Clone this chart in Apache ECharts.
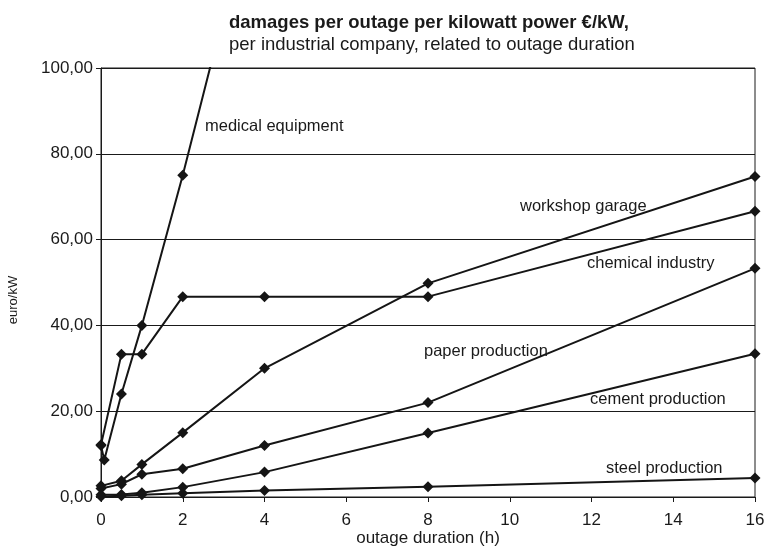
<!DOCTYPE html>
<html style="height: 100%;width:100%">
<head>
<meta charset="utf-8">
</head>
<body style="height: 100%; width:100%; margin:0">
<div id="chart-panel" style="width:772px;height:549px"></div>
<script type="text/javascript" src="https://fastly.jsdelivr.net/npm/echarts@6/dist/echarts.min.js"></script>
<script type="text/javascript">
// outage duration (h) / euro per kW
var hours = [0, 0.5, 1, 2, 4, 8, 16];
var medicalX = [0, 0.08, 0.5, 1, 2, 4];
var medical = [12, 8.6, 24, 40, 75, 150];
var chemicalX = [0, 0.5, 1, 2, 4, 8, 16];
var chemical = [12.2, 33.3, 33.3, 46.7, 46.7, 46.7, 66.6];
var workshop = [2.6, 3.8, 7.6, 15, 30, 49.8, 74.7];
var paper = [2, 3, 5.3, 6.6, 12, 22, 53.3];
var cement = [0.5, 0.6, 1, 2.3, 5.8, 14.9, 33.4];
var steel = [0.1, 0.3, 0.5, 0.9, 1.5, 2.4, 4.4];

var names = ['medical equipment', 'chemical industry', 'workshop garage', 'paper production', 'cement production', 'steel production'];

var dom = document.getElementById("chart-panel");
var myChart = echarts.init(dom);

function pairs(xs, ys) {
    var res = [];
    for (var i = 0; i < ys.length; i++) {
        res.push([xs[i], ys[i]]);
    }
    return res;
}

function lineSeries(name, data) {
    return {
        name: name,
        type: 'line',
        data: data,
        symbol: 'diamond',
        symbolSize: 11,
        clip: true,
        animation: false,
        lineStyle: { color: '#151515', width: 2 },
        itemStyle: { color: '#151515' }
    };
}

var font = 'Liberation Sans';
var textStyle = { fontFamily: font, fontSize: 16.5, fill: '#1a1a1a' };
// free labels next to the curves (left, top)
var labels = [
    [205, 118, names[0]],
    [520, 198, names[2]],
    [587, 255, names[1]],
    [424, 343, names[3]],
    [590, 391, names[4]],
    [606, 460, names[5]]
];

var graphics = labels.map(function (l) {
    return {
        type: 'text',
        left: l[0],
        top: l[1],
        z: 10,
        style: Object.assign({ text: l[2] }, textStyle)
    };
});
// y axis name, rotated
graphics.push({
    type: 'text',
    x: 13,
    y: 300,
    rotation: Math.PI / 2,
    style: { text: 'euro/kW', fontFamily: font, fontSize: 13, fill: '#1a1a1a', textAlign: 'center', textVerticalAlign: 'middle' }
});
// x axis name
graphics.push({
    type: 'text',
    x: 428,
    y: 538,
    style: { text: 'outage duration (h)', fontFamily: font, fontSize: 17, fill: '#1a1a1a', textAlign: 'center', textVerticalAlign: 'middle' }
});

var option = {
    backgroundColor: '#fff',
    title: [{
        text: 'damages per outage per kilowatt power €/kW,',
        left: 224,
        top: 8,
        textStyle: { fontFamily: font, fontSize: 18.5, fontWeight: 'bold', color: '#1a1a1a' }
    }, {
        text: 'per industrial company, related to outage duration',
        left: 224,
        top: 30,
        textStyle: { fontFamily: font, fontSize: 18.5, fontWeight: 'normal', color: '#1a1a1a' }
    }],
    grid: {
        left: 101,
        right: 17,
        top: 68,
        bottom: 52,
        containLabel: false,
        outerBoundsMode: 'none',
        show: true,
        borderColor: '#1a1a1a',
        borderWidth: 1
    },
    xAxis: {
        type: 'value',
        min: 0,
        max: 16,
        interval: 2,
        axisLine: { show: true, lineStyle: { color: '#1a1a1a', width: 1 } },
        axisTick: { show: true, length: 5, lineStyle: { color: '#1a1a1a' } },
        axisLabel: { fontFamily: font, fontSize: 17, color: '#1a1a1a', margin: 15 },
        splitLine: { show: false }
    },
    yAxis: {
        type: 'value',
        min: 0,
        max: 100,
        interval: 20,
        axisLine: { show: true, lineStyle: { color: '#1a1a1a', width: 1 } },
        axisTick: { show: true, length: 5, lineStyle: { color: '#1a1a1a' } },
        axisLabel: {
            fontFamily: font, fontSize: 17, color: '#1a1a1a', margin: 8,
            formatter: function (v) { return v.toFixed(2).replace('.', ','); }
        },
        splitLine: { show: true, lineStyle: { color: '#1a1a1a', width: 1 } }
    },
    graphic: graphics,
    series: [
        lineSeries(names[0], pairs(medicalX, medical)),
        lineSeries(names[1], pairs(chemicalX, chemical)),
        lineSeries(names[2], pairs(hours, workshop)),
        lineSeries(names[3], pairs(hours, paper)),
        lineSeries(names[4], pairs(hours, cement)),
        lineSeries(names[5], pairs(hours, steel))
    ]
};

myChart.setOption(option);
</script>
</body>
</html>
